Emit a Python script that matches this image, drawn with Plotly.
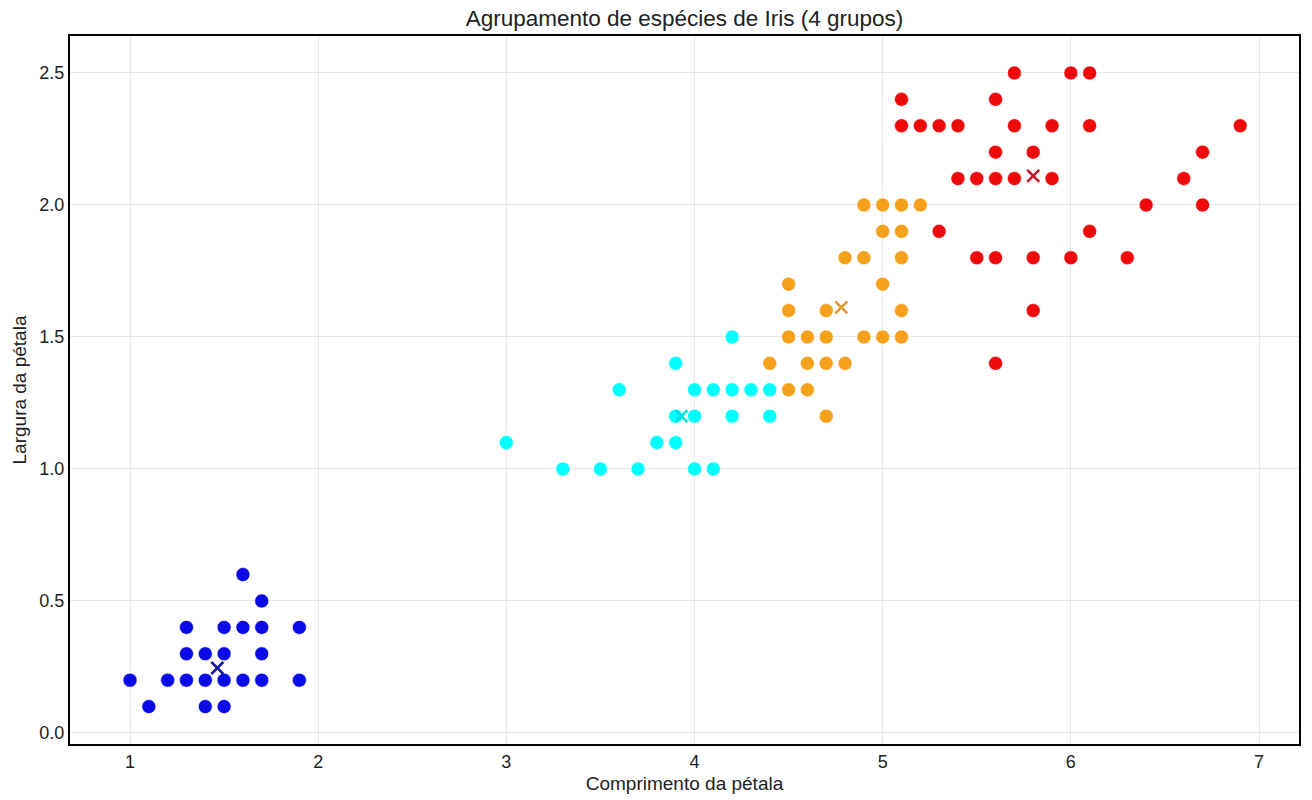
import plotly.graph_objects as go

# Cluster data: petal length (x) and petal width (y)
blue_x = [1.0, 1.1, 1.2, 1.3, 1.3, 1.3, 1.4, 1.4, 1.4, 1.5, 1.5, 1.5, 1.5, 1.6, 1.6, 1.6, 1.7, 1.7, 1.7, 1.7, 1.9, 1.9]
blue_y = [0.2, 0.1, 0.2, 0.2, 0.3, 0.4, 0.1, 0.2, 0.3, 0.1, 0.2, 0.3, 0.4, 0.2, 0.4, 0.6, 0.2, 0.3, 0.4, 0.5, 0.2, 0.4]

cyan_x = [3.0, 3.3, 3.5, 3.6, 3.7, 3.8, 3.9, 3.9, 3.9, 4.0, 4.0, 4.0, 4.1, 4.1, 4.2, 4.2, 4.2, 4.3, 4.4, 4.4]
cyan_y = [1.1, 1.0, 1.0, 1.3, 1.0, 1.1, 1.1, 1.2, 1.4, 1.0, 1.2, 1.3, 1.0, 1.3, 1.2, 1.3, 1.5, 1.3, 1.2, 1.3]

orange_x = [4.4, 4.5, 4.5, 4.5, 4.5, 4.6, 4.6, 4.6, 4.7, 4.7, 4.7, 4.7, 4.8, 4.8,
            4.9, 4.9, 4.9, 5.0, 5.0, 5.0, 5.0, 5.1, 5.1, 5.1, 5.1, 5.1, 5.2]
orange_y = [1.4, 1.7, 1.6, 1.5, 1.3, 1.5, 1.4, 1.3, 1.6, 1.5, 1.4, 1.2, 1.8, 1.4,
            2.0, 1.8, 1.5, 2.0, 1.9, 1.7, 1.5, 2.0, 1.9, 1.8, 1.6, 1.5, 2.0]

red_x = [5.1, 5.6, 5.7, 6.0, 6.1,
         5.1, 5.2, 5.3, 5.4, 5.7, 5.9, 6.1, 6.9,
         5.6, 5.8, 6.7,
         5.4, 5.5, 5.6, 5.7, 5.9, 6.6,
         6.4, 6.7,
         5.3, 6.1,
         5.5, 5.6, 5.8, 6.0, 6.3,
         5.8, 5.6]
red_y = [2.4, 2.4, 2.5, 2.5, 2.5,
         2.3, 2.3, 2.3, 2.3, 2.3, 2.3, 2.3, 2.3,
         2.2, 2.2, 2.2,
         2.1, 2.1, 2.1, 2.1, 2.1, 2.1,
         2.0, 2.0,
         1.9, 1.9,
         1.8, 1.8, 1.8, 1.8, 1.8,
         1.6, 1.4]

# Centroids
centroid_x = [1.464, 3.93, 4.78, 5.80]
centroid_y = [0.246, 1.20, 1.612, 2.11]

point_colors = ["#0a0ae6", "#00ffff", "#f5a11c", "#ee0a0a"]
centroid_colors = ["#1a1aa8", "#00e0e0", "#e39a2c", "#c81424"]

groups = [(blue_x, blue_y), (cyan_x, cyan_y), (orange_x, orange_y), (red_x, red_y)]

fig = go.Figure()
for i, (gx, gy) in enumerate(groups):
    fig.add_trace(go.Scatter(
        x=gx, y=gy, mode="markers",
        marker=dict(size=14, color=point_colors[i], line=dict(width=0.6, color="white")),
        showlegend=False, name=f"Grupo {i+1}",
    ))

for i in range(4):
    fig.add_trace(go.Scatter(
        x=[centroid_x[i]], y=[centroid_y[i]], mode="markers",
        marker=dict(symbol="x-thin", size=12, line=dict(width=2.6, color=centroid_colors[i]),
                    color=centroid_colors[i]),
        showlegend=False, name=f"Centroide {i+1}",
    ))

font_family = "Liberation Sans, Arial, sans-serif"

fig.update_layout(
    width=1312, height=800,
    margin=dict(l=70, r=13, t=36, b=56),
    paper_bgcolor="white", plot_bgcolor="white",
    font=dict(family=font_family, size=18, color="#222222"),
    title=dict(text="Agrupamento de espécies de Iris (4 grupos)", x=0.5, xref="paper",
               xanchor="center", y=0.977, yanchor="middle",
               font=dict(size=22.5, color="#222222")),
    xaxis=dict(
        title=dict(text="Comprimento da pétala", font=dict(size=19), standoff=6),
        range=[0.681, 7.2125], tickmode="linear", tick0=1, dtick=1,
        showgrid=True, gridcolor="#e8e8e8", gridwidth=1, zeroline=False,
        showline=True, linecolor="black", linewidth=2, mirror=True,
        ticks="", tickfont=dict(size=18), automargin=False,
    ),
    yaxis=dict(
        title=dict(text="Largura da pétala", font=dict(size=19), standoff=8),
        range=[-0.0417, 2.640], tickmode="linear", tick0=0, dtick=0.5, tickformat=".1f",
        showgrid=True, gridcolor="#e8e8e8", gridwidth=1, zeroline=False,
        showline=True, linecolor="black", linewidth=2, mirror=True,
        ticks="", tickfont=dict(size=18), automargin=False,
    ),
)

fig.write_html("out.html")
